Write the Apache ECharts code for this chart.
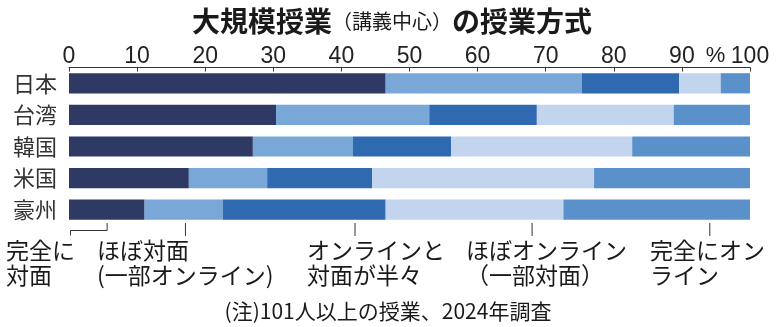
<!DOCTYPE html>
<html><head><meta charset="utf-8">
<script src="https://cdn.jsdelivr.net/npm/echarts@6/dist/echarts.min.js"></script>
<style>html,body{margin:0;padding:0;background:#fff}#c{width:781px;height:327px}</style>
</head><body><div id="c"></div>
<script>
const categories = ['日本', '台湾', '韓国', '米国', '豪州'];
const seriesNames = ['完全に対面', 'ほぼ対面(一部オンライン)', 'オンラインと対面が半々', 'ほぼオンライン(一部対面)', '完全にオンライン'];
const fullyInPerson = [46.5, 30.4, 27.0, 17.6, 11.1];
const mostlyInPerson = [28.8, 22.5, 14.7, 11.5, 11.5];
const halfHalf = [14.3, 15.8, 14.4, 15.4, 23.9];
const mostlyOnline = [6.1, 20.1, 26.6, 32.6, 26.1];
const fullyOnline = [4.3, 11.2, 17.3, 22.9, 27.4];
const tickValues = [0, 10, 20, 30, 40, 50, 60, 70, 80, 90, 100];
const leaderValues = [5.6, 17.1, 42.0, 68.0, 94.1];
const legendLines = [
  ['完全に', '対面'],
  ['ほぼ対面', '(一部オンライン)'],
  ['オンラインと', '対面が半々'],
  ['ほぼオンライン', '（一部対面）'],
  ['完全にオン', 'ライン']
];
const titleMain1 = '大規模授業';
const titleSub = '（講義中心）';
const titleMain2 = 'の授業方式';
const noteText = '(注)101人以上の授業、2024年調査';

const colors = ['#2e3a63', '#78a7d8', '#2f69b0', '#c3d4ee', '#5b91cb'];
const values = [fullyInPerson, mostlyInPerson, halfHalf, mostlyOnline, fullyOnline];
const JP = '"Noto Sans CJK JP", "Noto Sans", sans-serif';
const NUM = '"Liberation Sans", Arial, sans-serif';

const chart = echarts.init(document.getElementById('c'), null, {renderer: 'canvas'});
const option = {
  animation: false,
  backgroundColor: '#ffffff',
  title: {
    text: '{a|' + titleMain1 + '}{b|' + titleSub + '}{a|' + titleMain2 + '}',
    left: 187, top: 0,
    textStyle: {
      rich: {
        a: {fontFamily: JP, fontSize: 28, fontWeight: 'bold', color: '#1a1a1a', lineHeight: 32},
        b: {fontFamily: JP, fontSize: 20, fontWeight: 'normal', color: '#1a1a1a', lineHeight: 32}
      }
    }
  },
  grid: {left: 69, right: 31, top: 67.5, bottom: 101.5, containLabel: false},
  xAxis: {
    type: 'value', position: 'top', min: 0, max: 100, interval: 10,
    axisLine: {show: true, lineStyle: {color: '#333', width: 1}},
    axisTick: {show: true, inside: true, length: 4, lineStyle: {color: '#333'}},
    splitLine: {show: false},
    axisLabel: {
      margin: -1, fontFamily: NUM, fontSize: 23, color: '#222',
      formatter: v => tickValues.indexOf(v) >= 0 ? String(v) : ''
    }
  },
  yAxis: {
    type: 'category', inverse: true, data: categories,
    axisLine: {show: false}, axisTick: {show: false},
    axisLabel: {margin: 12, fontFamily: JP, fontSize: 22, color: '#333'}
  },
  series: seriesNames.map((n, i) => ({
    name: n, type: 'bar', stack: 'all', data: values[i],
    barCategoryGap: '36%',
    itemStyle: {color: colors[i]},
    emphasis: {disabled: true}
  }))
};
chart.setOption(option);

const lx = leaderValues.map(v => chart.convertToPixel({xAxisIndex: 0}, v));
const pctX = chart.convertToPixel({xAxisIndex: 0}, 95);
const lineTop = 223, lineBot = 236;
const graphics = [];
graphics.push({type: 'polyline', shape: {points: [[70.5, 235.5], [70.5, 230.5], [lx[0], 230.5], [lx[0], lineTop]]}, style: {stroke: '#333', fill: null, lineWidth: 1}});
for (let i = 1; i < lx.length; i++) {
  graphics.push({type: 'line', shape: {x1: lx[i], y1: lineTop, x2: lx[i], y2: lineBot}, style: {stroke: '#333', lineWidth: 1}});
}
const textX = [[6, 6], [97, 97], [307, 307], [466, 466], [650, 650]];
legendLines.forEach((ls, i) => {
  ls.forEach((t, j) => {
    graphics.push({type: 'text', x: textX[i][j], y: 250 + j * 25, style: {text: t, fontFamily: JP, fontSize: 23, fill: '#1a1a1a', textVerticalAlign: 'middle', textAlign: 'left'}});
  });
});
graphics.push({type: 'text', x: 388, y: 311, style: {text: noteText, fontFamily: JP, fontSize: 21, fill: '#1a1a1a', textAlign: 'center', textVerticalAlign: 'middle'}});
graphics.push({type: 'text', x: pctX - 0.5, y: 56, style: {text: '%', fontFamily: NUM, fontSize: 22, fill: '#222', textAlign: 'center', textVerticalAlign: 'middle'}});
chart.setOption({graphic: graphics});
</script></body></html>
